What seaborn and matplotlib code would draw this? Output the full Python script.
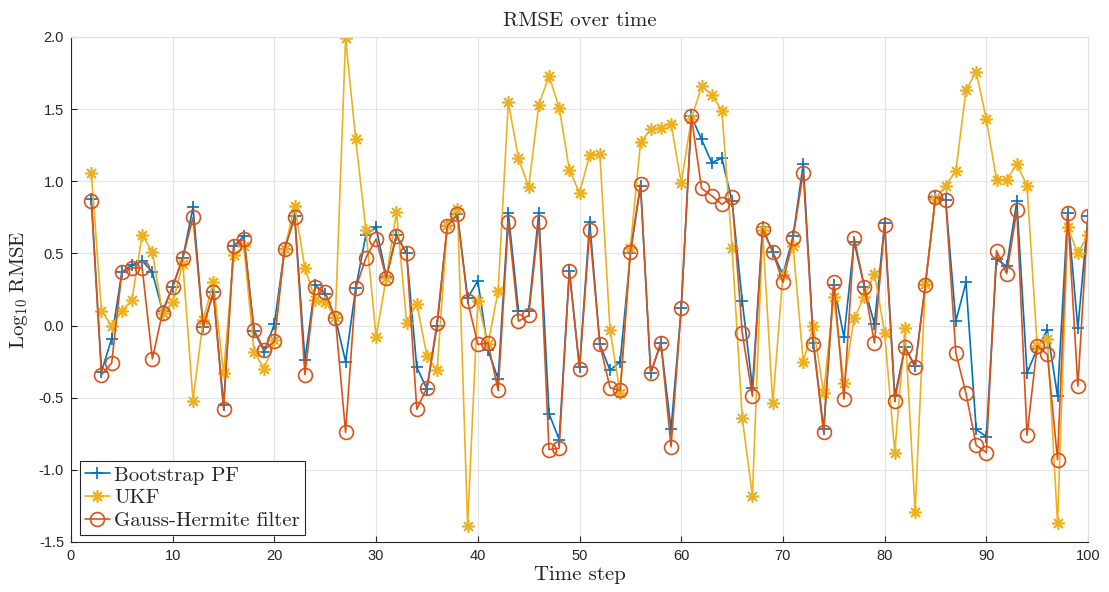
import numpy as np
import pandas as pd
import matplotlib
matplotlib.use("Agg")
import matplotlib.pyplot as plt
import seaborn as sns

steps = list(range(2, 101))
pf = [0.88, -0.32, -0.09, 0.37, 0.42, 0.45, 0.37, 0.10, 0.27, 0.47,
      0.82, -0.01, 0.23, -0.55, 0.55, 0.62, -0.04, -0.18, 0.01, 0.53,
      0.76, -0.24, 0.28, 0.22, 0.05, -0.25, 0.26, 0.63, 0.68, 0.34,
      0.63, 0.50, -0.29, -0.44, 0.00, 0.69, 0.77, 0.19, 0.31, -0.17,
      -0.37, 0.78, 0.10, 0.10, 0.78, -0.61, -0.79, 0.38, -0.29, 0.72,
      -0.13, -0.31, -0.25, 0.50, 0.97, -0.33, -0.12, -0.72, 0.12, 1.45,
      1.29, 1.13, 1.16, 0.86, 0.17, -0.43, 0.68, 0.51, 0.35, 0.62,
      1.12, -0.12, -0.72, 0.28, -0.08, 0.58, 0.27, 0.01, 0.71, -0.49,
      -0.15, -0.28, 0.28, 0.89, 0.87, 0.03, 0.30, -0.72, -0.77, 0.46,
      0.41, 0.86, -0.33, -0.16, -0.03, -0.49, 0.78, -0.02, 0.76]
ukf = [1.06, 0.10, 0.00, 0.10, 0.18, 0.63, 0.51, 0.09, 0.16, 0.43,
       -0.52, 0.04, 0.30, -0.33, 0.49, 0.55, -0.18, -0.30, -0.10, 0.53,
       0.83, 0.40, 0.18, 0.16, 0.06, 1.99, 1.29, 0.66, -0.08, 0.33,
       0.79, 0.02, 0.15, -0.21, -0.31, 0.70, 0.81, -1.39, 0.17, -0.13,
       0.24, 1.55, 1.16, 0.96, 1.53, 1.73, 1.51, 1.08, 0.92, 1.18,
       1.19, -0.03, -0.47, 0.54, 1.27, 1.36, 1.37, 1.40, 0.99, 1.43,
       1.66, 1.60, 1.49, 0.54, -0.64, -1.18, 0.66, -0.54, 0.35, 0.55,
       -0.25, 0.00, -0.47, 0.20, -0.40, 0.05, 0.20, 0.36, -0.05, -0.88,
       -0.02, -1.29, 0.29, 0.88, 0.97, 1.07, 1.63, 1.76, 1.43, 1.01,
       1.01, 1.12, 0.97, -0.14, -0.09, -1.37, 0.68, 0.50, 0.63]
gh = [0.86, -0.34, -0.26, 0.37, 0.40, 0.40, -0.23, 0.09, 0.27, 0.47,
      0.75, -0.01, 0.23, -0.58, 0.55, 0.60, -0.03, -0.17, -0.11, 0.53,
      0.75, -0.34, 0.27, 0.23, 0.05, -0.74, 0.26, 0.47, 0.60, 0.33,
      0.62, 0.50, -0.58, -0.43, 0.02, 0.69, 0.77, 0.17, -0.13, -0.12,
      -0.45, 0.72, 0.03, 0.07, 0.72, -0.86, -0.85, 0.38, -0.30, 0.66,
      -0.13, -0.43, -0.45, 0.51, 0.98, -0.33, -0.12, -0.84, 0.12, 1.45,
      0.95, 0.90, 0.84, 0.89, -0.05, -0.49, 0.67, 0.51, 0.30, 0.61,
      1.06, -0.13, -0.74, 0.30, -0.51, 0.61, 0.27, -0.12, 0.70, -0.52,
      -0.15, -0.29, 0.28, 0.89, 0.87, -0.19, -0.47, -0.83, -0.88, 0.52,
      0.36, 0.80, -0.76, -0.14, -0.20, -0.93, 0.78, -0.42, 0.76]

labels = ["Bootstrap PF", "UKF", "Gauss-Hermite filter"]
colors = ["#0072BD", "#EDB120", "#D95319"]
markers = ["+", (8, 2, 0), "o"]

sns.set_theme(style="whitegrid")
plt.rcParams["font.family"] = ["Liberation Sans", "DejaVu Sans"]
plt.rcParams["mathtext.fontset"] = "cm"
plt.rcParams["axes.unicode_minus"] = False

fig = plt.figure(figsize=(11.09, 5.92), dpi=100)
ax = fig.add_axes([0.0640, 0.0845, 0.9171, 0.853])

series = [pf, ukf, gh]
for vals, lab, col, mk in zip(series, labels, colors, markers):
    df = pd.DataFrame({"step": steps, "val": vals})
    kw = dict(markersize=9, markeredgewidth=1.2, markeredgecolor=col)
    if mk == "o":
        kw.update(markerfacecolor="none", markersize=10)
    sns.lineplot(data=df, x="step", y="val", ax=ax, color=col, marker=mk,
                 linewidth=1.2, label=lab, **kw)

ax.set_xlim(0, 100)
ax.set_ylim(-1.5, 2.0)
ax.set_xticks(np.arange(0, 101, 10))
ax.set_yticks(np.arange(-1.5, 2.01, 0.5))
ax.set_yticklabels([f"{v:.1f}" for v in np.arange(-1.5, 2.01, 0.5)])
ax.tick_params(axis="both", labelsize=10.5, colors="#262626", direction="in",
               length=4, width=0.8, left=True, bottom=True, pad=5)
ax.set_facecolor("white")
ax.grid(True, color="#e3e3e3", linewidth=0.8)
for name, s in ax.spines.items():
    s.set_visible(True)
    s.set_linewidth(0.8)
    s.set_color("#262626" if name in ("left", "bottom") else "#e0e0e0")

serif = "cmr10"
ax.set_title("RMSE over time", fontsize=15, family=serif, color="#222222", pad=8)
ax.set_xlabel("Time step", fontsize=15, family=serif, color="#222222", labelpad=2)
ax.set_ylabel(r"$\mathrm{Log}_{10}\ \mathrm{RMSE}$", fontsize=15, color="#222222", labelpad=6)

leg = ax.legend(loc="lower left", bbox_to_anchor=(0.0085, 0.013), frameon=True,
                fancybox=False, edgecolor="#262626", framealpha=1,
                prop={"family": serif, "size": 15}, handlelength=1.2,
                handletextpad=0.2, borderpad=0.25, labelspacing=0.2,
                borderaxespad=0)
leg.get_frame().set_linewidth(0.8)

fig.savefig("out.png", dpi=100)
